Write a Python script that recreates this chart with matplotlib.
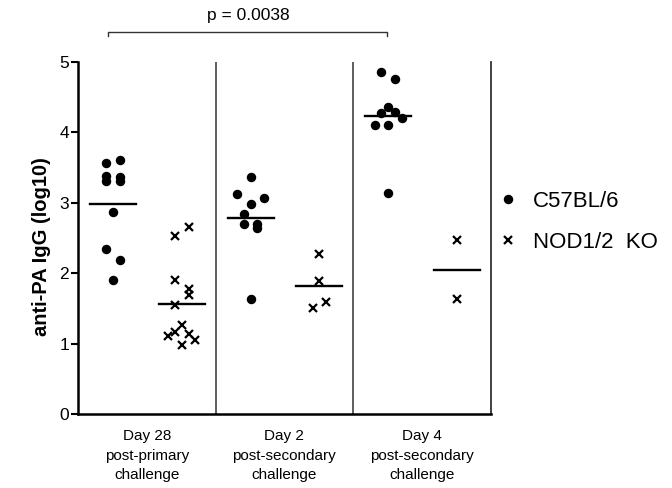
import numpy as np
import matplotlib
matplotlib.use('Agg')
import matplotlib.pyplot as plt
from matplotlib.lines import Line2D

plt.rcParams['font.family'] = ['Liberation Sans', 'DejaVu Sans']

# x categories
day_labels = ['Day 28\npost-primary\nchallenge',
              'Day 2\npost-secondary\nchallenge',
              'Day 4\npost-secondary\nchallenge']
series_names = ['C57BL/6', 'NOD1/2  KO']

# anti-PA IgG (log10)
c57_day28 = [3.61, 3.56, 3.38, 3.37, 3.31, 3.31, 2.86, 2.34, 2.19, 1.90]
c57_day2 = [3.36, 3.12, 3.06, 2.98, 2.84, 2.70, 2.69, 2.64, 1.63]
c57_day4 = [4.85, 4.75, 4.35, 4.28, 4.27, 4.20, 4.10, 4.10, 3.13]
nod_day28 = [2.65, 2.52, 1.90, 1.78, 1.69, 1.54, 1.27, 1.16, 1.13, 1.11, 1.05, 0.98]
nod_day2 = [2.27, 1.89, 1.59, 1.51]
nod_day4 = [2.47, 1.63]

# scatter column of each point (how the dots are spread sideways)
c57_day28_col = [1, -1, -1, 1, -1, 1, 0, -1, 1, 0]
c57_day2_col = [0, -2, 2, 0, -1, 1, -1, 1, 0]
c57_day4_col = [-1, 1, 0, 1, -1, 2, -2, 0, 0]
nod_day28_col = [1, -1, -1, 1, 1, -1, 0, -1, 1, -2, 2, 0]
nod_day2_col = [0, 0, 1, -1]
nod_day4_col = [0, 0]

p_text = 'p = 0.0038'

c57 = [c57_day28, c57_day2, c57_day4]
c57_cols = [c57_day28_col, c57_day2_col, c57_day4_col]
nod = [nod_day28, nod_day2, nod_day4]
nod_cols = [nod_day28_col, nod_day2_col, nod_day4_col]

fig = plt.figure(figsize=(6.72, 4.88), dpi=100)
ax = fig.add_axes([0.1161, 0.1516, 0.6141, 0.7220])

col_step = 0.049
mean_half = 0.167
offsets = [0.255, 0.755]

for i in range(3):
    for k, (vals, cols) in enumerate([(c57[i], c57_cols[i]), (nod[i], nod_cols[i])]):
        center = i + offsets[k]
        x = center + col_step * np.array(cols)
        if k == 0:
            ax.plot(x, vals, 'o', color='black', ms=5.8, ls='none', clip_on=False)
        else:
            ax.plot(x, vals, 'x', color='black', ms=5.6, mew=1.6, ls='none', clip_on=False)
        m = np.mean(vals)
        ax.plot([center - mean_half, center + mean_half], [m, m], color='black', lw=1.7)

# group separators
for sep in [1, 2]:
    ax.axvline(sep, color='#333333', lw=1.1)

ax.set_xlim(0, 3)
ax.set_ylim(0, 5)
ax.spines['top'].set_visible(False)
ax.spines['right'].set_color('#333333')
ax.spines['right'].set_linewidth(1.3)
ax.spines['left'].set_linewidth(1.8)
ax.spines['bottom'].set_linewidth(1.8)

ax.set_yticks(range(6))
ax.tick_params(axis='y', direction='out', length=5, width=1.5, labelsize=12.5, pad=1.5)
ax.set_xticks([0.5, 1.5, 2.5])
ax.set_xticklabels(day_labels, fontsize=11)
ax.tick_params(axis='x', length=0, pad=11)
for t in ax.get_xticklabels():
    t.set_linespacing(1.5)

ax.set_ylabel('anti-PA IgG (log10)', fontsize=14.5, fontweight='bold')
ax.yaxis.set_label_coords(-0.065, 0.475)

# significance bracket
ax.plot([0.215, 0.215, 2.245, 2.245], [5.36, 5.42, 5.42, 5.36],
        color='#333333', lw=1.0, clip_on=False)
ax.text(1.235, 5.66, p_text, ha='center', va='center', fontsize=12.5)

handles = [Line2D([], [], marker='o', color='black', ls='none', ms=5.8),
           Line2D([], [], marker='x', color='black', ls='none', ms=5.6, mew=1.6)]
fig.legend(handles, series_names, loc='center left', bbox_to_anchor=(0.7396, 0.545),
           frameon=False, fontsize=16, handlelength=1, handletextpad=0.6,
           labelspacing=0.9, borderpad=0, borderaxespad=0)

fig.savefig('out.png', dpi=100)
